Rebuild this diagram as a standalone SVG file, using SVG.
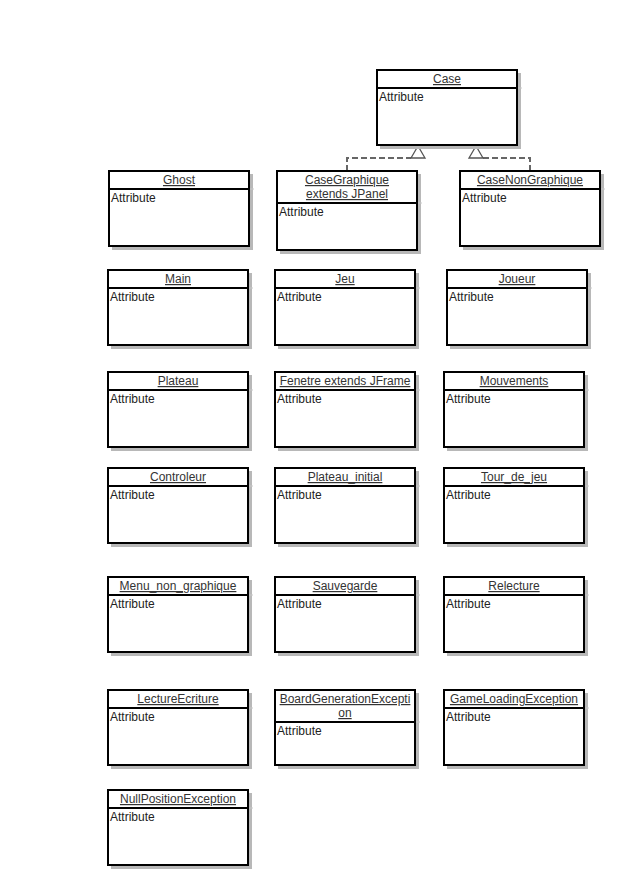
<svg xmlns="http://www.w3.org/2000/svg" width="622" height="885" viewBox="0 0 622 885">
<defs>
<style>
.sh{fill:#b8b8b8;stroke:none}
.bx{fill:#fff;stroke:#000;stroke-width:2}
.hl{stroke:#000;stroke-width:2}
.tk{stroke:#c8c8c8;stroke-width:1}
.t{font-family:"Liberation Sans",Arial,sans-serif;font-size:12px;fill:#333;text-anchor:middle;text-decoration:underline}
.a{font-family:"Liberation Sans",Arial,sans-serif;font-size:12px;fill:#222}
.dl{fill:none;stroke:#666;stroke-width:2;stroke-dasharray:6 3}
.tri{fill:#fff;stroke:#555;stroke-width:1.3}
</style>
</defs>
<rect width="622" height="885" fill="#fff"/>

<g id="connectors">
<path class="dl" d="M347,171 V158 H411"/>
<path class="tri" d="M418,146 L411,158 L425,158 Z"/>
<path class="dl" d="M530,171 V158 H483"/>
<path class="tri" d="M476,146 L469,158 L483,158 Z"/>
</g>

<g id="Case">
<rect class="sh" x="380" y="73" width="141" height="76"/>
<rect class="bx" x="377" y="70" width="140" height="75"/>
<line class="hl" x1="377" y1="88" x2="517" y2="88"/>
<line class="tk" x1="518" y1="88" x2="522" y2="88"/>
<text class="t" x="447" y="83">Case</text>
<text class="a" x="379" y="101">Attribute</text>
</g>

<g id="Ghost">
<rect class="sh" x="112" y="174" width="141" height="76"/>
<rect class="bx" x="109" y="171" width="140" height="75"/>
<line class="hl" x1="109" y1="189" x2="249" y2="189"/>
<line class="tk" x1="250" y1="189" x2="254" y2="189"/>
<text class="t" x="179" y="184">Ghost</text>
<text class="a" x="111" y="202">Attribute</text>
</g>

<g id="CaseGraphique">
<rect class="sh" x="280" y="174" width="141" height="80"/>
<rect class="bx" x="277" y="171" width="140" height="79"/>
<line class="hl" x1="277" y1="203" x2="417" y2="203"/>
<line class="tk" x1="418" y1="203" x2="422" y2="203"/>
<text class="t" x="347" y="184">CaseGraphique</text>
<text class="t" x="347" y="198">extends JPanel</text>
<text class="a" x="279" y="216">Attribute</text>
</g>

<g id="CaseNonGraphique">
<rect class="sh" x="463" y="174" width="141" height="76"/>
<rect class="bx" x="460" y="171" width="140" height="75"/>
<line class="hl" x1="460" y1="189" x2="600" y2="189"/>
<line class="tk" x1="601" y1="189" x2="605" y2="189"/>
<text class="t" x="530" y="184">CaseNonGraphique</text>
<text class="a" x="462" y="202">Attribute</text>
</g>

<g id="Main">
<rect class="sh" x="111" y="273" width="141" height="76"/>
<rect class="bx" x="108" y="270" width="140" height="75"/>
<line class="hl" x1="108" y1="288" x2="248" y2="288"/>
<line class="tk" x1="249" y1="288" x2="253" y2="288"/>
<text class="t" x="178" y="283">Main</text>
<text class="a" x="110" y="301">Attribute</text>
</g>

<g id="Jeu">
<rect class="sh" x="278" y="273" width="141" height="76"/>
<rect class="bx" x="275" y="270" width="140" height="75"/>
<line class="hl" x1="275" y1="288" x2="415" y2="288"/>
<line class="tk" x1="416" y1="288" x2="420" y2="288"/>
<text class="t" x="345" y="283">Jeu</text>
<text class="a" x="277" y="301">Attribute</text>
</g>

<g id="Joueur">
<rect class="sh" x="450" y="273" width="141" height="76"/>
<rect class="bx" x="447" y="270" width="140" height="75"/>
<line class="hl" x1="447" y1="288" x2="587" y2="288"/>
<line class="tk" x1="588" y1="288" x2="592" y2="288"/>
<text class="t" x="517" y="283">Joueur</text>
<text class="a" x="449" y="301">Attribute</text>
</g>

<g id="Plateau">
<rect class="sh" x="111" y="375" width="141" height="76"/>
<rect class="bx" x="108" y="372" width="140" height="75"/>
<line class="hl" x1="108" y1="390" x2="248" y2="390"/>
<line class="tk" x1="249" y1="390" x2="253" y2="390"/>
<text class="t" x="178" y="385">Plateau</text>
<text class="a" x="110" y="403">Attribute</text>
</g>

<g id="Fenetre">
<rect class="sh" x="278" y="375" width="141" height="76"/>
<rect class="bx" x="275" y="372" width="140" height="75"/>
<line class="hl" x1="275" y1="390" x2="415" y2="390"/>
<line class="tk" x1="416" y1="390" x2="420" y2="390"/>
<text class="t" x="345" y="385">Fenetre extends JFrame</text>
<text class="a" x="277" y="403">Attribute</text>
</g>

<g id="Mouvements">
<rect class="sh" x="447" y="375" width="141" height="76"/>
<rect class="bx" x="444" y="372" width="140" height="75"/>
<line class="hl" x1="444" y1="390" x2="584" y2="390"/>
<line class="tk" x1="585" y1="390" x2="589" y2="390"/>
<text class="t" x="514" y="385">Mouvements</text>
<text class="a" x="446" y="403">Attribute</text>
</g>

<g id="Controleur">
<rect class="sh" x="111" y="471" width="141" height="76"/>
<rect class="bx" x="108" y="468" width="140" height="75"/>
<line class="hl" x1="108" y1="486" x2="248" y2="486"/>
<line class="tk" x1="249" y1="486" x2="253" y2="486"/>
<text class="t" x="178" y="481">Controleur</text>
<text class="a" x="110" y="499">Attribute</text>
</g>

<g id="Plateau_initial">
<rect class="sh" x="278" y="471" width="141" height="76"/>
<rect class="bx" x="275" y="468" width="140" height="75"/>
<line class="hl" x1="275" y1="486" x2="415" y2="486"/>
<line class="tk" x1="416" y1="486" x2="420" y2="486"/>
<text class="t" x="345" y="481">Plateau_initial</text>
<text class="a" x="277" y="499">Attribute</text>
</g>

<g id="Tour_de_jeu">
<rect class="sh" x="447" y="471" width="141" height="76"/>
<rect class="bx" x="444" y="468" width="140" height="75"/>
<line class="hl" x1="444" y1="486" x2="584" y2="486"/>
<line class="tk" x1="585" y1="486" x2="589" y2="486"/>
<text class="t" x="514" y="481">Tour_de_jeu</text>
<text class="a" x="446" y="499">Attribute</text>
</g>

<g id="Menu_non_graphique">
<rect class="sh" x="111" y="580" width="141" height="76"/>
<rect class="bx" x="108" y="577" width="140" height="75"/>
<line class="hl" x1="108" y1="595" x2="248" y2="595"/>
<line class="tk" x1="249" y1="595" x2="253" y2="595"/>
<text class="t" x="178" y="590">Menu_non_graphique</text>
<text class="a" x="110" y="608">Attribute</text>
</g>

<g id="Sauvegarde">
<rect class="sh" x="278" y="580" width="141" height="76"/>
<rect class="bx" x="275" y="577" width="140" height="75"/>
<line class="hl" x1="275" y1="595" x2="415" y2="595"/>
<line class="tk" x1="416" y1="595" x2="420" y2="595"/>
<text class="t" x="345" y="590">Sauvegarde</text>
<text class="a" x="277" y="608">Attribute</text>
</g>

<g id="Relecture">
<rect class="sh" x="447" y="580" width="141" height="76"/>
<rect class="bx" x="444" y="577" width="140" height="75"/>
<line class="hl" x1="444" y1="595" x2="584" y2="595"/>
<line class="tk" x1="585" y1="595" x2="589" y2="595"/>
<text class="t" x="514" y="590">Relecture</text>
<text class="a" x="446" y="608">Attribute</text>
</g>

<g id="LectureEcriture">
<rect class="sh" x="111" y="693" width="141" height="76"/>
<rect class="bx" x="108" y="690" width="140" height="75"/>
<line class="hl" x1="108" y1="708" x2="248" y2="708"/>
<line class="tk" x1="249" y1="708" x2="253" y2="708"/>
<text class="t" x="178" y="703">LectureEcriture</text>
<text class="a" x="110" y="721">Attribute</text>
</g>

<g id="BoardGenerationException">
<rect class="sh" x="278" y="693" width="141" height="76"/>
<rect class="bx" x="275" y="690" width="140" height="75"/>
<line class="hl" x1="275" y1="722" x2="415" y2="722"/>
<line class="tk" x1="416" y1="722" x2="420" y2="722"/>
<text class="t" x="345" y="703">BoardGenerationExcepti</text>
<text class="t" x="345" y="717">on</text>
<text class="a" x="277" y="735">Attribute</text>
</g>

<g id="GameLoadingException">
<rect class="sh" x="447" y="693" width="141" height="76"/>
<rect class="bx" x="444" y="690" width="140" height="75"/>
<line class="hl" x1="444" y1="708" x2="584" y2="708"/>
<line class="tk" x1="585" y1="708" x2="589" y2="708"/>
<text class="t" x="514" y="703">GameLoadingException</text>
<text class="a" x="446" y="721">Attribute</text>
</g>

<g id="NullPositionException">
<rect class="sh" x="111" y="793" width="141" height="76"/>
<rect class="bx" x="108" y="790" width="140" height="75"/>
<line class="hl" x1="108" y1="808" x2="248" y2="808"/>
<line class="tk" x1="249" y1="808" x2="253" y2="808"/>
<text class="t" x="178" y="803">NullPositionException</text>
<text class="a" x="110" y="821">Attribute</text>
</g>
</svg>
